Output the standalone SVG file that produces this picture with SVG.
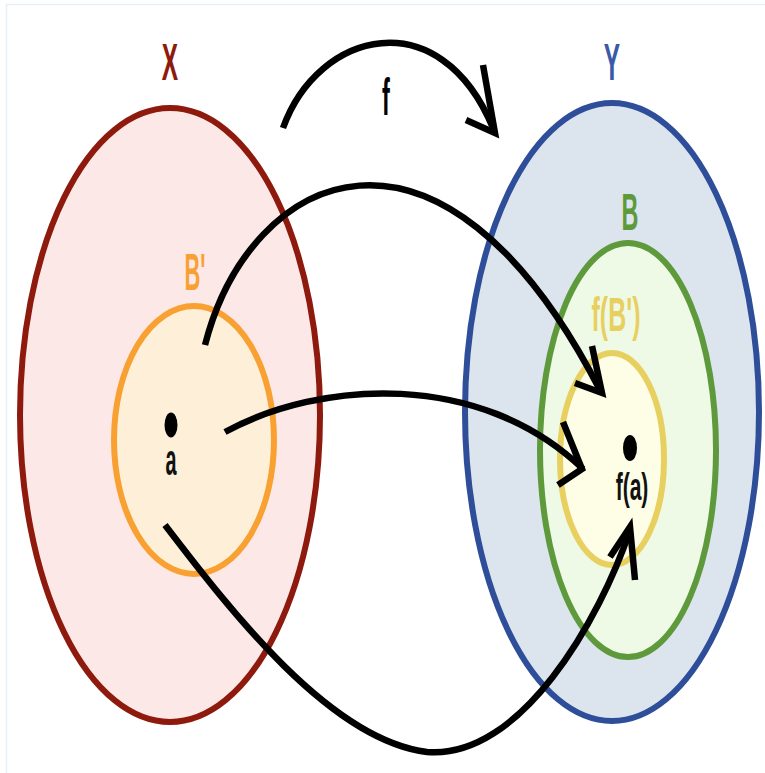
<svg xmlns="http://www.w3.org/2000/svg" width="765" height="773" viewBox="0 0 765 773">
<style>
.lbl{font-family:"Liberation Sans",Arial,sans-serif;font-weight:bold;text-anchor:middle}
.set{stroke-width:6}
.conn{fill:none;stroke:#000;stroke-width:6.5;stroke-linejoin:miter;stroke-linecap:butt}
</style>
<rect width="765" height="773" fill="#fff"/>
<path d="M6.5,773 V4.5 H765" fill="none" stroke="#E6EEF8" stroke-width="1.5"/>
<g id="X">
<ellipse class="set" cx="170" cy="415" rx="150" ry="307" fill="#FDE8E8" stroke="#8E1A0E"/>
<text class="lbl" transform="translate(170,80) scale(0.47,1)" font-size="52" fill="#8E1A0E">X</text>
</g>
<g id="Bprime">
<ellipse class="set" cx="194" cy="440" rx="80" ry="134" fill="#FDEFD8" stroke="#F8A132"/>
<text class="lbl" transform="translate(195,290) scale(0.42,1)" font-size="52" fill="#F8A132">B'</text>
</g>
<g id="Y">
<ellipse class="set" cx="612" cy="412" rx="147" ry="309" fill="#DCE5EE" stroke="#2F4E9A"/>
<text class="lbl" transform="translate(612,80) scale(0.47,1)" font-size="52" fill="#3A5AA8">Y</text>
</g>
<g id="B">
<ellipse class="set" cx="628" cy="450" rx="88" ry="207" fill="#EEFAE5" stroke="#5E9A3C"/>
<text class="lbl" transform="translate(630,230) scale(0.45,1)" font-size="52" fill="#5E9A3C">B</text>
</g>
<g id="fBprime">
<ellipse class="set" cx="612" cy="459" rx="52" ry="106" fill="#FEFDE5" stroke="#E8D060"/>
<text class="lbl" transform="translate(616,331) scale(0.52,1)" font-size="48" fill="#E8D060">f(B')</text>
</g>
<g id="a">
<ellipse cx="171" cy="425" rx="6.5" ry="12.5" fill="#000"/>
<text class="lbl" transform="translate(171,475) scale(0.45,1)" font-size="44" fill="#111">a</text>
</g>
<g id="fa">
<ellipse cx="630" cy="448" rx="7" ry="13" fill="#000"/>
<text class="lbl" transform="translate(632,500) scale(0.54,1)" font-size="39" fill="#111">f(a)</text>
</g>
<g id="connectors">
<path class="conn" d="M283,128 C318,30 440,0 493,128"/>
<path class="conn" d="M483,65 L495,133 L466,120"/>
<text class="lbl" transform="translate(386,115) scale(0.45,1)" font-size="52" fill="#000">f</text>
<path class="conn" d="M205,345 C250,170 440,80 600,390"/>
<path class="conn" d="M592,346 L602,393 L575,383"/>
<path class="conn" d="M225,432 C320,380 480,370 583,469"/>
<path class="conn" d="M563,422 L582,469 L558,485"/>
<path class="conn" d="M165,525 C230,610 330,740 427,752 C520,760 600,620 630,530"/>
<path class="conn" d="M610,557 L630,527 L635,580"/>
</g>
</svg>
